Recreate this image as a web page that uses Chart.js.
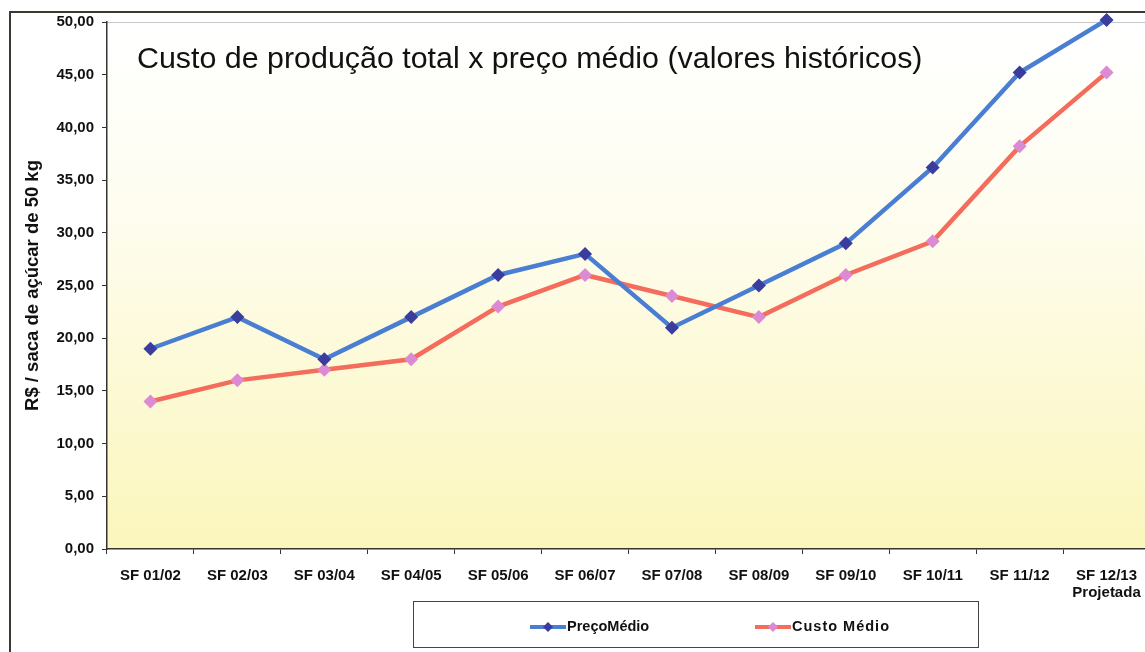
<!DOCTYPE html>
<html>
<head>
<meta charset="utf-8">
<script src="https://cdn.jsdelivr.net/npm/chart.js@4.4.1/dist/chart.umd.min.js"></script>
<style>
  html, body { margin: 0; padding: 0; background: #ffffff; overflow: hidden; }
  #wrap { position: absolute; left: 0; top: 0; width: 1160px; height: 652px; }
</style>
</head>
<body>
<div id="wrap"><canvas id="c" width="1160" height="652"></canvas></div>
<script>
// Safras (categories)
const safras = [
  'SF 01/02', 'SF 02/03', 'SF 03/04', 'SF 04/05', 'SF 05/06', 'SF 06/07',
  'SF 07/08', 'SF 08/09', 'SF 09/10', 'SF 10/11', 'SF 11/12', ['SF 12/13', 'Projetada']
];
// R$ per 50 kg sack of sugar
const precoMedio = [19.0, 22.0, 18.0, 22.0, 26.0, 28.0, 21.0, 25.0, 29.0, 36.2, 45.2, 50.2];
const custoMedio = [14.0, 16.0, 17.0, 18.0, 23.0, 26.0, 24.0, 22.0, 26.0, 29.2, 38.2, 45.2];
const seriesNames = ['PreçoMédio', 'Custo Médio'];
const chartTitle = 'Custo de produção total x preço médio (valores históricos)';
const yTitle = 'R$ / saca de açúcar de 50 kg';

const FONT = '"Liberation Sans", Arial, Helvetica, sans-serif';

// outer frame lines (top and left)
const framePlugin = {
  id: 'frame',
  beforeDraw(chart) {
    const ctx = chart.ctx;
    ctx.save();
    ctx.strokeStyle = '#3a3a30';
    ctx.lineWidth = 2;
    ctx.beginPath();
    ctx.moveTo(10, 652);
    ctx.lineTo(10, 12);
    ctx.lineTo(chart.width, 12);
    ctx.stroke();
    ctx.restore();
  }
};

// soft white-to-yellow fill behind the plot
const plotBgPlugin = {
  id: 'plotBg',
  beforeDraw(chart) {
    const { ctx, chartArea: a } = chart;
    const g = ctx.createLinearGradient(0, a.top, 0, a.bottom);
    g.addColorStop(0, '#ffffff');
    g.addColorStop(0.35, '#fefdf0');
    g.addColorStop(1, '#fbf6bc');
    ctx.save();
    ctx.fillStyle = g;
    ctx.fillRect(a.left, a.top, a.right - a.left, a.bottom - a.top);
    ctx.strokeStyle = '#c8c8c8';
    ctx.lineWidth = 1;
    ctx.beginPath();
    ctx.moveTo(a.left, a.top + 0.5);
    ctx.lineTo(a.right, a.top + 0.5);
    ctx.stroke();
    ctx.restore();
  }
};

// title written inside the plot area
const innerTitlePlugin = {
  id: 'innerTitle',
  afterDatasetsDraw(chart) {
    const { ctx, chartArea: a } = chart;
    ctx.save();
    ctx.font = '30.4px ' + FONT;
    ctx.fillStyle = '#111111';
    ctx.textAlign = 'left';
    ctx.textBaseline = 'alphabetic';
    ctx.fillText(chartTitle, a.left + 30, 68);
    ctx.restore();
  }
};

// boxed legend below the axis
const boxLegendPlugin = {
  id: 'boxLegend',
  afterDraw(chart) {
    const ctx = chart.ctx;
    ctx.save();
    ctx.strokeStyle = '#444444';
    ctx.lineWidth = 1;
    ctx.strokeRect(413.5, 601.5, 565, 46);
    const starts = [530, 755];
    const cy = 627;
    chart.data.datasets.forEach((ds, i) => {
      const x = starts[i];
      ctx.strokeStyle = ds.borderColor;
      ctx.lineWidth = 4;
      ctx.beginPath();
      ctx.moveTo(x, cy);
      ctx.lineTo(x + 36, cy);
      ctx.stroke();
      const mx = x + 18, r = 5;
      ctx.fillStyle = ds.pointBackgroundColor;
      ctx.beginPath();
      ctx.moveTo(mx, cy - r);
      ctx.lineTo(mx + r, cy);
      ctx.lineTo(mx, cy + r);
      ctx.lineTo(mx - r, cy);
      ctx.closePath();
      ctx.fill();
      ctx.fillStyle = '#111111';
      ctx.font = 'bold 14.5px ' + FONT;
      ctx.textAlign = 'left';
      ctx.textBaseline = 'middle';
      if ('letterSpacing' in ctx) ctx.letterSpacing = i === 1 ? '1px' : '0px';
      ctx.fillText(ds.label, x + 37, cy);
    });
    ctx.restore();
  }
};

new Chart(document.getElementById('c'), {
  type: 'line',
  data: {
    labels: safras,
    datasets: [
      {
        label: seriesNames[0],
        data: precoMedio,
        borderColor: '#4a7ed2',
        borderWidth: 4.5,
        pointStyle: 'rectRot',
        pointRadius: 7,
        pointHoverRadius: 7,
        pointBackgroundColor: '#3b3d9e',
        pointBorderColor: '#3b3d9e',
        pointBorderWidth: 0,
        tension: 0,
        clip: false
      },
      {
        label: seriesNames[1],
        data: custoMedio,
        borderColor: '#f36c5c',
        borderWidth: 4.5,
        pointStyle: 'rectRot',
        pointRadius: 7,
        pointHoverRadius: 7,
        pointBackgroundColor: '#dc8ad4',
        pointBorderColor: '#dc8ad4',
        pointBorderWidth: 0,
        tension: 0,
        clip: false
      }
    ]
  },
  options: {
    responsive: false,
    animation: false,
    devicePixelRatio: 1,
    layout: { padding: { top: 22, right: 10, bottom: 0, left: 0 } },
    plugins: {
      legend: { display: false },
      title: { display: false },
      tooltip: { enabled: false }
    },
    scales: {
      x: {
        offset: true,
        grid: { offset: true, drawOnChartArea: false, drawTicks: true, tickLength: 5, color: '#333333' },
        border: { color: '#333333', width: 1.5 },
        ticks: {
          autoSkip: false, maxRotation: 0, padding: 13,
          color: '#111111',
          font: { family: FONT, size: 15, weight: 'bold', lineHeight: 1.15 }
        },
        afterFit(s) { s.height = 103; }
      },
      y: {
        min: 0,
        max: 50,
        ticks: {
          stepSize: 5,
          padding: 8,
          color: '#111111',
          font: { family: FONT, size: 15, weight: 'bold' },
          callback: v => v.toFixed(2).replace('.', ',')
        },
        grid: { drawOnChartArea: false, drawTicks: true, tickLength: 5, color: '#333333' },
        border: { color: '#333333', width: 1.5 },
        title: {
          display: true,
          text: yTitle,
          color: '#111111',
          font: { family: FONT, size: 18.5, weight: 'bold' },
          padding: { top: 22, bottom: 0 }
        },
        afterFit(s) { s.width = 107; }
      }
    }
  },
  plugins: [framePlugin, plotBgPlugin, innerTitlePlugin, boxLegendPlugin]
});
</script>
</body>
</html>
